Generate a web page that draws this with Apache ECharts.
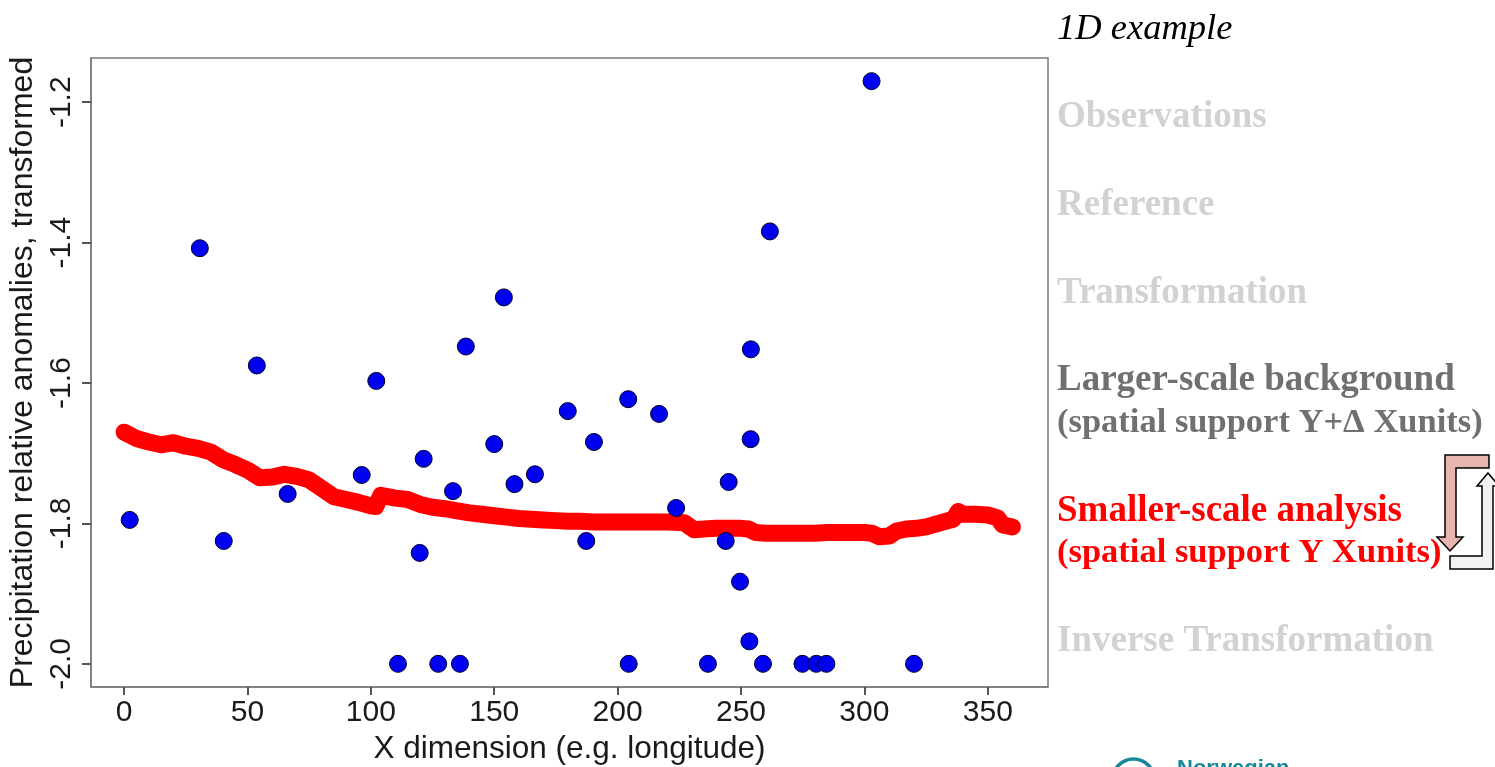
<!DOCTYPE html>
<html>
<head>
<meta charset="utf-8">
<script src="https://cdn.jsdelivr.net/npm/echarts@6/dist/echarts.min.js"></script>
<style>
html,body{margin:0;padding:0;background:#fff;}
#chart{width:1495px;height:767px;}
</style>
</head>
<body>
<div id="chart"></div>
<script>
// ---- Data ----
// Observations (blue points)
const obsX = [2.3, 30.7, 40.4, 53.8, 66.3, 96.3, 102.2, 119.8, 121.4, 111.0,
  127.3, 136.1, 133.3, 138.5, 150.0, 153.9, 158.2, 166.5, 179.8, 187.3,
  190.4, 204.3, 204.5, 216.8, 223.7, 236.6, 243.8, 245.0, 249.6, 253.9,
  254.0, 253.4, 258.9, 261.7, 274.9, 280.5, 284.6, 302.9, 320.1];
const obsY = [-1.795, -1.408, -1.825, -1.575, -1.758, -1.731, -1.597, -1.842, -1.708, -2.0,
  -2.0, -2.0, -1.754, -1.548, -1.687, -1.478, -1.744, -1.730, -1.640, -1.825,
  -1.684, -1.623, -2.0, -1.644, -1.778, -2.0, -1.825, -1.741, -1.883, -1.680,
  -1.552, -1.968, -2.0, -1.384, -2.0, -2.0, -2.0, -1.170, -2.0];

// Smaller-scale analysis (red curve)
const anaX = [0, 5, 10, 15, 20, 25, 30, 35, 40, 45,
  50, 55, 60, 65, 70, 75, 80, 85, 90, 95,
  100, 102, 104, 110, 115, 120, 125, 130, 135, 140,
  145, 150, 155, 160, 165, 170, 175, 180, 185, 190,
  195, 200, 205, 210, 215, 220, 227, 231, 235, 240,
  245, 250, 253, 256, 260, 265, 270, 275, 280, 285,
  290, 295, 300, 303, 306, 310, 313, 317, 321, 325,
  330, 334, 336, 338, 340, 345, 350, 354, 356, 360];
const anaY = [-1.670, -1.679, -1.684, -1.688, -1.685, -1.690, -1.693, -1.698, -1.709, -1.716,
  -1.724, -1.735, -1.734, -1.730, -1.733, -1.738, -1.750, -1.762, -1.766, -1.770,
  -1.775, -1.776, -1.760, -1.764, -1.766, -1.773, -1.777, -1.779, -1.782, -1.785,
  -1.787, -1.789, -1.791, -1.793, -1.794, -1.795, -1.796, -1.797, -1.797, -1.798,
  -1.798, -1.798, -1.798, -1.798, -1.798, -1.798, -1.799, -1.809, -1.808, -1.807,
  -1.807, -1.807, -1.808, -1.813, -1.814, -1.814, -1.814, -1.814, -1.814, -1.813,
  -1.813, -1.813, -1.813, -1.814, -1.819, -1.818, -1.811, -1.808, -1.807, -1.805,
  -1.800, -1.796, -1.794, -1.783, -1.787, -1.787, -1.788, -1.792, -1.802, -1.805];

// Axis ticks and labels
const xTicks = [0, 50, 100, 150, 200, 250, 300, 350];
const yTicks = [-2.0, -1.8, -1.6, -1.4, -1.2];
const xTitle = 'X dimension (e.g. longitude)';
const yTitle = 'Precipitation relative anomalies, transformed';

// Right-hand panel text
const panelTitle = '1D example';
const panelSteps = [
  ['Observations'],
  ['Reference'],
  ['Transformation'],
  ['Larger-scale background', '(spatial support Y+\u0394 Xunits)'],
  ['Smaller-scale analysis', '(spatial support Y Xunits)'],
  ['Inverse Transformation']
];
const logoText = 'Norwegian';

// ---- Build chart ----
const chart = echarts.init(document.getElementById('chart'), null, {renderer: 'canvas'});

const obsData = obsX.map((x, i) => [x, obsY[i]]);
const anaData = anaX.map((x, i) => [x, anaY[i]]);

const sansFont = '"Liberation Sans", Arial, Helvetica, sans-serif';
const serifFont = '"Liberation Serif", "Times New Roman", serif';

const stepColors = ['#d2d2d2', '#d2d2d2', '#d2d2d2', '#707070', '#ff0000', '#d2d2d2'];
const stepY = [[117], [205], [293], [380, 423], [511, 553], [641]];

const graphics = [];
graphics.push({
  type: 'text', x: 1057, y: 29, silent: true,
  style: {text: panelTitle, x: 0, y: 0, fill: '#000', font: 'italic 36.5px ' + serifFont,
    textAlign: 'left', textVerticalAlign: 'middle'}
});
panelSteps.forEach((lines, i) => {
  lines.forEach((t, j) => {
    const size = j === 0 ? 37 : 34.5;
    graphics.push({
      type: 'text', x: 1057, y: stepY[i][j], silent: true,
      style: {text: t, x: 0, y: 0, fill: stepColors[i], font: 'bold ' + size + 'px ' + serifFont,
        textAlign: 'left', textVerticalAlign: 'middle'}
    });
  });
});
// Arrows
graphics.push({
  type: 'polygon', silent: true,
  shape: {points: [[1489,455],[1489,468],[1456,468],[1456,537],[1463,537],[1450,551],[1437,537],[1445,537],[1445,455]]},
  style: {fill: '#e6b5ad', stroke: '#000', lineWidth: 1.5}
});
graphics.push({
  type: 'polygon', silent: true,
  shape: {points: [[1488,473],[1499,486],[1493,486],[1493,569],[1450,569],[1450,556],[1482,556],[1482,486],[1477,486]]},
  style: {fill: '#f2f2f2', stroke: '#000', lineWidth: 1.5}
});
// Logo fragment
graphics.push({
  type: 'circle', silent: true,
  shape: {cx: 1133.5, cy: 780, r: 21},
  style: {fill: 'none', stroke: '#17879a', lineWidth: 3.5}
});
graphics.push({
  type: 'text', x: 1177, y: 769, silent: true,
  style: {text: logoText, x: 0, y: 0, fill: '#17879a', font: 'bold 22px ' + sansFont,
    textAlign: 'left', textVerticalAlign: 'middle'}
});

const option = {
  backgroundColor: '#ffffff',
  animation: false,
  grid: {
    left: 91, right: 447, top: 58, bottom: 80,
    show: true, borderColor: '#7a7a7a', borderWidth: 1.5,
    containLabel: false, outerBoundsMode: 'none'
  },
  xAxis: {
    type: 'value',
    min: -13.4, max: 374.4,
    name: xTitle, nameLocation: 'middle', nameGap: 42,
    nameTextStyle: {fontFamily: sansFont, fontSize: 31.5, color: '#1a1a1a'},
    axisLine: {show: true, onZero: false, lineStyle: {color: '#7a7a7a', width: 1.5}},
    splitLine: {show: false},
    axisTick: {show: true, inside: false, length: 8, customValues: xTicks, lineStyle: {color: '#555555', width: 2}},
    axisLabel: {show: true, customValues: xTicks, margin: 11,
      fontFamily: sansFont, fontSize: 30, color: '#1a1a1a',
      formatter: v => String(v)}
  },
  yAxis: {
    type: 'value',
    min: -2.033, max: -1.137,
    name: yTitle, nameLocation: 'middle', nameRotate: 90, nameGap: 38,
    nameTextStyle: {fontFamily: sansFont, fontSize: 32, color: '#1a1a1a'},
    axisLine: {show: true, onZero: false, lineStyle: {color: '#7a7a7a', width: 1.5}},
    splitLine: {show: false},
    axisTick: {show: true, inside: false, length: 9, customValues: yTicks, lineStyle: {color: '#555555', width: 2}},
    axisLabel: {show: true, customValues: yTicks, rotate: 90, margin: 14,
      fontFamily: sansFont, fontSize: 30, color: '#1a1a1a',
      formatter: v => v.toFixed(1)}
  },
  series: [
    {
      name: 'Smaller-scale analysis',
      type: 'line',
      data: anaData,
      showSymbol: false,
      symbol: 'none',
      smooth: false,
      lineStyle: {color: '#ff0000', width: 17, cap: 'round', join: 'round', opacity: 1},
      z: 2,
      silent: true
    },
    {
      name: 'Observations',
      type: 'scatter',
      data: obsData,
      symbol: 'circle',
      symbolSize: 17,
      itemStyle: {color: '#0000f0', borderColor: '#00002a', borderWidth: 1, opacity: 1},
      z: 3,
      silent: true
    }
  ],
  graphic: graphics
};
chart.setOption(option);
</script>
</body>
</html>
